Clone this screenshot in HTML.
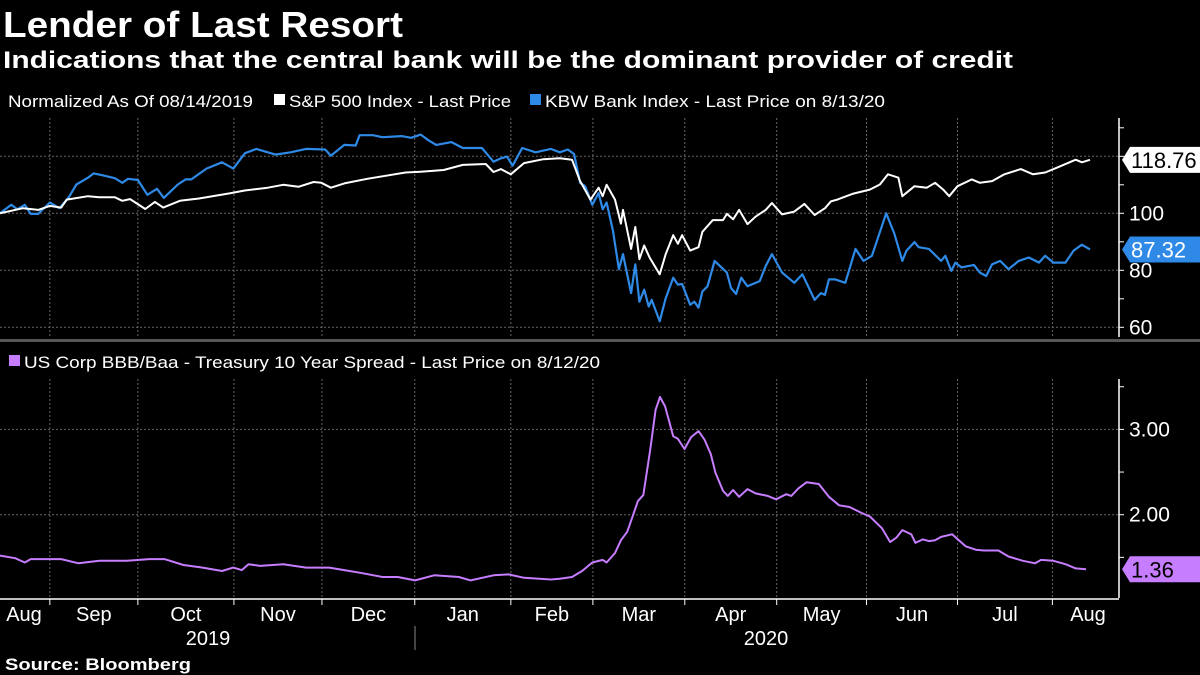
<!DOCTYPE html>
<html><head><meta charset="utf-8"><style>
html,body{margin:0;padding:0;background:#000;}
svg{display:block;font-family:"Liberation Sans",sans-serif;}
</style></head><body>
<svg id="chart" width="1200" height="675" viewBox="0 0 1200 675">
<rect width="1200" height="675" fill="#000"/>
<text x="3" y="37" fill="#fff" font-weight="bold" font-size="36" textLength="400" lengthAdjust="spacingAndGlyphs">Lender of Last Resort</text>
<text x="3" y="68" fill="#fff" font-weight="bold" font-size="24" textLength="1010" lengthAdjust="spacingAndGlyphs">Indications that the central bank will be the dominant provider of credit</text>
<g font-size="17" fill="#fff">
<text x="8" y="107" textLength="245" lengthAdjust="spacingAndGlyphs">Normalized As Of 08/14/2019</text>
<rect x="274" y="94" width="11" height="11" fill="#fff"/>
<text x="289" y="107" textLength="222" lengthAdjust="spacingAndGlyphs">S&amp;P 500 Index - Last Price</text>
<rect x="530" y="94" width="11" height="11" fill="#2e8ae6"/>
<text x="545" y="107" textLength="340" lengthAdjust="spacingAndGlyphs">KBW Bank Index - Last Price on 8/13/20</text>
</g>
<g font-size="17" fill="#fff">
<rect x="9" y="355" width="11" height="11" fill="#c77dff"/>
<text x="24" y="368" textLength="576" lengthAdjust="spacingAndGlyphs">US Corp BBB/Baa - Treasury 10 Year Spread - Last Price on 8/12/20</text>
</g>
<rect x="0" y="339" width="1200" height="3" fill="#555"/>
<g id="grid"></g>
<g id="axes"></g>
<g id="series"></g>
<text x="5" y="670" fill="#fff" font-weight="bold" font-size="17" textLength="186" lengthAdjust="spacingAndGlyphs">Source: Bloomberg</text>
</svg>
<script>
// Day offsets from 2019-08-14 and values
const spxDays=[0,7.7,12.8,16.7,20.5,22.4,29.5,33.3,38.5,41,43.6,48.7,51.9,54.7,60.3,66.7,76.9,82,89.7,94.9,100,105.1,107.7,110.9,115.4,123.1,128.2,135.9,141,148.7,155.1,162.8,165.4,167.9,171.2,175.6,182.1,
187.6,191.7,194.4,197.9,200.6,202,203.3,206.1,208.1,208.8,211.5,212.9,214.3,215.9,217.7,221.1,223.1,225.6,227.2,228.6,231.3,234.1,235.4,238.9,242.3,243.6,245.7,247.7,250.5,253.2,256.6,258.7,262.1,266.2,269.6,273,276.5,278.5,280.6,286,291.5,294.9,297.6,301.1,302.4,306.5,310.6,313.4,316.1,318.1,320.9,325.7,328.4,332.5,336.6,342.1,346.2,350.3,354.4,360.5,362.6,365.3];
const spxVals=[100,101.8,101.2,102.6,102,104.8,106,105.6,105.6,104.4,105,101.5,104,102,104.4,105.2,107,108,109,110,109.3,111,110.7,109,110.5,112.1,113,114.3,114.6,115.2,117,117.3,114.5,115.5,113.7,117.6,119,
119.3,118.8,111.3,104.8,109,106,110,104.8,96.4,101.2,87.5,95.2,83.9,88.7,84.5,78.6,85.7,92.3,89.3,92.3,86.9,88.1,93.5,97.6,97.6,99.8,97.9,101.2,96.2,98.8,101.2,103.6,99.6,100.6,103.3,99.4,101.8,104.2,104.8,106.9,108.3,110.1,113.7,112.5,106,109.5,109,110.7,108.3,106,109.5,111.9,110.7,111.3,113.7,115.5,113.7,114.3,116.1,118.8,117.9,118.76];
const kbwDays=[0,3.8,5.8,8.3,10.3,12.8,16.7,19.9,23.1,25.6,29.5,31.4,34.6,38.5,41,42.9,46.2,49.4,52.6,54.9,59.6,62.2,64.1,69.2,74.4,78.2,82.1,85.9,92.3,97.4,102.6,109,110.9,115.4,119.2,120.5,125,128.2,134.6,137.8,141,143.6,146.2,151.3,155.1,161.5,165.4,167.9,169.9,171.8,175,179.5,184.6,
187.6,190.3,192.4,194.4,196.1,198.5,200.6,202,203.3,205.4,207.4,208.8,211.5,212.9,214.3,215.9,217.4,218.4,221.1,223.1,225.6,227.2,228.6,231.3,232.7,234.1,235.4,237.1,239.5,243.6,245,246.7,248.4,250.5,254.6,256.6,258.7,262.1,266.2,268.9,273,275.1,276.5,277.8,279.9,283.3,286.7,289.4,292.2,297,299.7,302.4,303.8,306.5,307.9,311.3,315.4,316.8,318.8,320.2,322.2,326.4,328.4,330.5,332.5,335.2,338,341.4,344.8,348.2,350.3,353,357.1,359.8,362.6,365.3];
const kbwVals=[100,103,101.4,103,99.8,99.8,103.8,101.8,105.7,110.1,112.5,114,113.3,112.3,110.7,112.1,111.7,106.5,108.6,105.4,110.1,111.9,111.9,115.7,117.9,115.7,121.1,122.6,120.6,121.4,122.6,122.4,120.2,124,123.8,127.4,127.4,126.7,127.1,126.5,127.6,125.6,124,125,122.9,122.9,118.1,119.3,119.9,116.7,122.9,121.4,122.6,
121.4,122.4,120.8,110.7,109.5,103,107.1,101.4,103.8,94,80.4,85.7,72,82.1,69,73.2,67.3,69.6,62.1,70.2,77.4,75,75.2,67.9,69,66.9,72.6,74.4,83.3,79.2,73.8,71.7,77.4,74.4,76.2,81.5,85.7,79.2,75.6,78.6,69.6,72,71.4,76.8,76.8,75.6,87.5,83.3,85.1,100,92.9,83.3,86.9,89.9,88.1,87.5,83.3,85.1,79.8,82.7,81,81.9,79.2,78,82.1,83.3,80.4,83.3,84.5,82.7,85.1,82.7,82.7,86.9,89,87.32];
const sprDays=[0,5.1,8.3,10.3,20.5,26.3,33.3,42.3,50,55.1,61.5,67.9,74.4,78.2,81,83.3,87.2,94.9,102.6,110.3,115.4,120.5,128.2,133.3,139.1,145.5,153.8,157.7,165.4,170.5,175.6,184.6,
187.6,191.7,195.1,198.5,202,203.3,206.1,208.1,210.2,211.9,213.8,215.6,217.9,219.7,221.2,222.9,225.6,227.2,229.4,231.6,234.1,236.1,238.2,239.8,242.3,243.9,245.7,247.7,250.5,253.2,257.3,260.1,263.5,265.2,267.6,270.3,274.4,277.8,281.2,284.7,288.8,291.5,295.6,298.3,300.4,302.4,305.4,306.8,309.3,311.3,313.4,315.4,319.1,323.6,327,329.7,334.6,338,342.8,346.9,348.9,353,357.1,360.5,364];
const sprVals=[1.52,1.49,1.44,1.48,1.48,1.43,1.46,1.46,1.48,1.48,1.41,1.38,1.34,1.38,1.35,1.42,1.40,1.42,1.38,1.38,1.35,1.32,1.27,1.27,1.23,1.29,1.27,1.23,1.29,1.30,1.26,1.24,
1.25,1.27,1.34,1.44,1.47,1.44,1.55,1.70,1.80,1.97,2.16,2.23,2.76,3.23,3.38,3.27,2.92,2.89,2.77,2.91,2.98,2.88,2.71,2.49,2.28,2.22,2.29,2.21,2.30,2.25,2.22,2.18,2.24,2.22,2.31,2.38,2.36,2.21,2.11,2.09,2.02,1.98,1.84,1.68,1.73,1.82,1.77,1.67,1.71,1.69,1.70,1.74,1.77,1.63,1.59,1.58,1.58,1.51,1.46,1.43,1.47,1.46,1.42,1.37,1.36];
const monthLabels=["Aug","Sep","Oct","Nov","Dec","Jan","Feb","Mar","Apr","May","Jun","Jul","Aug"];
const monthStartDays=[-14,16.7,46.2,78.4,107.9,139,171.2,198.7,229.5,260.3,290.4,320.9,352.7];
const topTicks=[100,80,60];
const botTicks=["3.00","2.00"];
const lastLabels=["118.76","87.32","1.36"];

const NS="http://www.w3.org/2000/svg";
const PW=1090/365.3;
function x(d){return d*PW;}
function yTop(v){return 213.3-(v-100)*2.85;}
function yBot(v){return 514.7-(v-2)*85.3;}
function mk(tag,attrs,parent){const e=document.createElementNS(NS,tag);for(const k in attrs)e.setAttribute(k,attrs[k]);parent.appendChild(e);return e;}
const grid=document.getElementById('grid'),axes=document.getElementById('axes'),ser=document.getElementById('series');
const AX=1119;
for(let i=1;i<monthStartDays.length;i++){
  const gx=x(monthStartDays[i]);
  [[118,337],[379,598]].forEach(r=>{
    const l=mk('line',{x1:gx,x2:gx,y1:r[0],y2:r[1],stroke:'#666','stroke-dasharray':'2,2','stroke-width':1},grid);
    
    
  });
  const t=mk('line',{x1:gx,x2:gx,y1:599,y2:605,stroke:'#fff'},axes);
  
  
}
[120,100,80,60].forEach(v=>{
  const l=mk('line',{x1:0,x2:AX,y1:yTop(v),y2:yTop(v),stroke:'#666','stroke-dasharray':'2,2'},grid);
  
  
});
[3,2].forEach(v=>{
  const l=mk('line',{x1:0,x2:AX,y1:yBot(v),y2:yBot(v),stroke:'#666','stroke-dasharray':'2,2'},grid);
  
  
});
[[118,337],[379,598]].forEach(r=>{
  const l=mk('line',{x1:AX,x2:AX,y1:r[0],y2:r[1],stroke:'#fff','stroke-width':1.5},axes);
  
  
});
const xa=mk('line',{x1:0,x2:AX,y1:599,y2:599,stroke:'#fff','stroke-width':1.5},axes);


[130,120,110,100,90,80,70,60].forEach(v=>{
  const t=mk('line',{x1:AX,x2:AX+5,y1:yTop(v),y2:yTop(v),stroke:'#fff'},axes);
  
  
});
topTicks.forEach(v=>{
  const t=mk('text',{x:AX+10,y:yTop(v)+7,fill:'#fff','font-size':21},axes);
  t.textContent=v;
  
  
});
[3.5,3,2.5,2,1.5].forEach(v=>{
  const t=mk('line',{x1:AX,x2:AX+5,y1:yBot(v),y2:yBot(v),stroke:'#fff'},axes);
  
  
});
botTicks.forEach(s=>{
  const t=mk('text',{x:AX+10,y:yBot(parseFloat(s))+7,fill:'#fff','font-size':21},axes);
  t.textContent=s;
  
  
});
monthLabels.forEach((m,i)=>{
  const s=monthStartDays[i], e=i+1<monthStartDays.length?monthStartDays[i+1]:s+31;
  let cx=x((s+e)/2);
  if(i===0)cx=24;
  if(i===12)cx=1088;
  const t=mk('text',{x:cx,y:621,fill:'#fff','font-size':20,'text-anchor':'middle'},axes);
  t.textContent=m;
  
  
});
[["2019",208],["2020",766]].forEach(p=>{
  const t=mk('text',{x:p[1],y:645,fill:'#fff','font-size':20,'text-anchor':'middle'},axes);
  t.textContent=p[0];
  
  
});
const ys=mk('line',{x1:415,x2:415,y1:626,y2:650,stroke:'#888'},axes);


function path(days,vals,fy){return days.map((d,i)=>(i?'L':'M')+x(d).toFixed(1)+','+fy(vals[i]).toFixed(1)).join(' ');}
const kb=mk('path',{d:path(kbwDays,kbwVals,yTop),fill:'none',stroke:'#2e8ae6','stroke-width':2.2,'stroke-linejoin':'round'},ser);


const sp=mk('path',{d:path(spxDays,spxVals,yTop),fill:'none',stroke:'#fff','stroke-width':2,'stroke-linejoin':'round'},ser);


const sr=mk('path',{d:path(sprDays,sprVals,yBot),fill:'none',stroke:'#c77dff','stroke-width':2,'stroke-linejoin':'round'},ser);


function tag(val,yv,bg,fg,name){
  const g=mk('g',{},ser);
  
  
  mk('path',{d:`M1122,${yv} L1130,${yv-13} L1200,${yv-13} L1200,${yv+13} L1130,${yv+13} Z`,fill:bg},g);
  const t=mk('text',{x:1131,y:yv+8,fill:fg,'font-size':22},g);
  t.textContent=val;
}
tag(lastLabels[0],yTop(parseFloat(lastLabels[0])),'#fff','#000','spx-last-label');
tag(lastLabels[1],yTop(parseFloat(lastLabels[1])),'#2e8ae6','#fff','kbw-last-label');
tag(lastLabels[2],yBot(parseFloat(lastLabels[2])),'#c77dff','#000','spread-last-label');
</script>
</body></html>
